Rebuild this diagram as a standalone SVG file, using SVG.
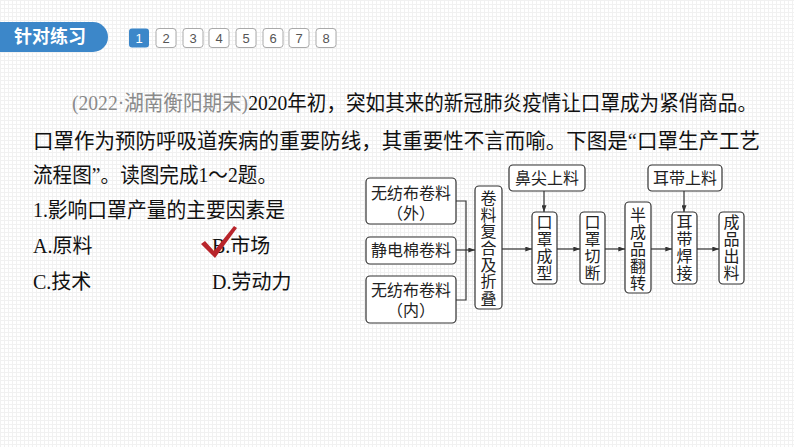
<svg xmlns="http://www.w3.org/2000/svg" width="794" height="447" viewBox="0 0 794 447">
<defs>
<pattern id="grid" width="4" height="4" patternUnits="userSpaceOnUse">
<rect width="4" height="4" fill="#ffffff"/>
<path d="M0 0.5H4M0.5 0V4" stroke="#f1f1f1" stroke-width="1"/>
</pattern>
<marker id="arr" viewBox="0 0 8 6" refX="8" refY="3" markerWidth="7" markerHeight="5" markerUnits="userSpaceOnUse" orient="auto">
<path d="M0,0 L8,3 L0,6 Z" fill="#333"/>
</marker>
<style>
.tx{font-family:"Liberation Serif","Noto Sans CJK SC",serif;font-size:21px;fill:#111}
.sm{font-size:20px}
.gray{fill:#8a8a8a}
.num{font-family:"Liberation Sans",Arial,sans-serif;font-size:13px;fill:#555;text-anchor:middle}
.nb{fill:#fff;stroke:#aaa;stroke-width:1}
.box{fill:#fff;stroke:#333;stroke-width:1.2}
.bt{font-family:"Liberation Serif","Noto Sans CJK SC",serif;font-size:16px;fill:#222;text-anchor:middle;dominant-baseline:central}
.ln{fill:none;stroke:#333;stroke-width:1.2}
</style>
</defs>
<rect width="794" height="447" fill="url(#grid)"/>

<g id="header">
<path d="M0 22 H93 A15 15 0 0 1 93 52 H0 Z" fill="#3c87c9"/>
<text x="50" y="43" font-family="'Noto Sans CJK SC',sans-serif" font-size="18" font-weight="bold" fill="#fff" text-anchor="middle">针对练习</text>
</g>
<g id="pager">
<rect x="129" y="28.5" width="20" height="19" rx="3" fill="#3c87c9"/>
<text x="139" y="43" class="num" style="fill:#fff">1</text>
<rect class="nb" x="156" y="28.5" width="20" height="19" rx="3"/><text class="num" x="166" y="43">2</text>
<rect class="nb" x="183" y="28.5" width="20" height="19" rx="3"/><text class="num" x="193" y="43">3</text>
<rect class="nb" x="209" y="28.5" width="20" height="19" rx="3"/><text class="num" x="219" y="43">4</text>
<rect class="nb" x="236" y="28.5" width="20" height="19" rx="3"/><text class="num" x="246" y="43">5</text>
<rect class="nb" x="263" y="28.5" width="20" height="19" rx="3"/><text class="num" x="273" y="43">6</text>
<rect class="nb" x="289" y="28.5" width="20" height="19" rx="3"/><text class="num" x="299" y="43">7</text>
<rect class="nb" x="316" y="28.5" width="20" height="19" rx="3"/><text class="num" x="326" y="43">8</text>
</g>

<g id="question">
<text class="tx" x="72" y="110" textLength="685" lengthAdjust="spacingAndGlyphs"><tspan class="gray">(2022·湖南衡阳期末)</tspan>2020年初，突如其来的新冠肺炎疫情让口罩成为紧俏商品。</text>
<text class="tx" x="33" y="148" textLength="727" lengthAdjust="spacingAndGlyphs">口罩作为预防呼吸道疾病的重要防线，其重要性不言而喻。下图是“口罩生产工艺</text>
<text class="tx" x="33" y="182" textLength="244" lengthAdjust="spacingAndGlyphs">流程图”。读图完成1～2题。</text>
<text class="tx" x="33" y="217" textLength="252" lengthAdjust="spacingAndGlyphs">1.影响口罩产量的主要因素是</text>
<text class="tx sm" x="33" y="253">A.原料</text>
<text class="tx sm" x="212" y="253">B.市场</text>
<text class="tx sm" x="33" y="289">C.技术</text>
<text class="tx sm" x="212" y="289">D.劳动力</text>
</g>
<g id="check">
<path d="M201 244 L205 241 L214 251 L234 226 L237 228 L215 258 Z" fill="#b8242b"/>
</g>

<g id="connectors">
<path class="ln" d="M456 201 H466 V300 H456"/>
<path class="ln" d="M456 250 H475" marker-end="url(#arr)"/>
<path class="ln" d="M502 249 H532" marker-end="url(#arr)"/>
<path class="ln" d="M557 249 H580" marker-end="url(#arr)"/>
<path class="ln" d="M605 249 H625" marker-end="url(#arr)"/>
<path class="ln" d="M651 249 H672" marker-end="url(#arr)"/>
<path class="ln" d="M697 249 H719" marker-end="url(#arr)"/>
<path class="ln" d="M544 191 V212" marker-end="url(#arr)"/>
<path class="ln" d="M684 191 V212" marker-end="url(#arr)"/>
</g>

<g id="n-wfb-wai">
<rect class="box" x="366" y="178" width="90" height="46" rx="4"/>
<text class="bt" x="411" y="193">无纺布卷料</text>
<text class="bt" x="411" y="213">（外）</text>
</g>
<g id="n-jdm">
<rect class="box" x="366" y="237" width="90" height="27" rx="4"/>
<text class="bt" x="411" y="250">静电棉卷料</text>
</g>
<g id="n-wfb-nei">
<rect class="box" x="366" y="276" width="90" height="47" rx="4"/>
<text class="bt" x="411" y="290">无纺布卷料</text>
<text class="bt" x="411" y="310">（内）</text>
</g>
<g id="n-fuhe">
<rect class="box" x="475" y="186" width="27" height="123" rx="4"/>
<text class="bt" x="488.5"><tspan x="488.5" y="198">卷</tspan><tspan x="488.5" y="214.7">料</tspan><tspan x="488.5" y="231.3">复</tspan><tspan x="488.5" y="248">合</tspan><tspan x="488.5" y="264.7">及</tspan><tspan x="488.5" y="281.3">折</tspan><tspan x="488.5" y="298">叠</tspan></text>
</g>
<g id="n-bijian">
<rect class="box" x="509" y="165" width="76" height="26" rx="4"/>
<text class="bt" x="547" y="178">鼻尖上料</text>
</g>
<g id="n-chengxing">
<rect class="box" x="532" y="212" width="25" height="72" rx="4"/>
<text class="bt"><tspan x="544.5" y="222">口</tspan><tspan x="544.5" y="239">罩</tspan><tspan x="544.5" y="256">成</tspan><tspan x="544.5" y="273">型</tspan></text>
</g>
<g id="n-qieduan">
<rect class="box" x="580" y="212" width="25" height="72" rx="4"/>
<text class="bt"><tspan x="592.5" y="222">口</tspan><tspan x="592.5" y="239">罩</tspan><tspan x="592.5" y="256">切</tspan><tspan x="592.5" y="273">断</tspan></text>
</g>
<g id="n-fanzhuan">
<rect class="box" x="625" y="202" width="26" height="91" rx="4"/>
<text class="bt"><tspan x="638" y="215">半</tspan><tspan x="638" y="232">成</tspan><tspan x="638" y="249">品</tspan><tspan x="638" y="266">翻</tspan><tspan x="638" y="283">转</tspan></text>
</g>
<g id="n-erdai">
<rect class="box" x="648" y="165" width="74" height="26" rx="4"/>
<text class="bt" x="685" y="178">耳带上料</text>
</g>
<g id="n-hanjie">
<rect class="box" x="672" y="212" width="25" height="72" rx="4"/>
<text class="bt"><tspan x="684.5" y="222">耳</tspan><tspan x="684.5" y="239">带</tspan><tspan x="684.5" y="256">焊</tspan><tspan x="684.5" y="273">接</tspan></text>
</g>
<g id="n-chuliao">
<rect class="box" x="719" y="212" width="25" height="72" rx="4"/>
<text class="bt"><tspan x="731.5" y="222">成</tspan><tspan x="731.5" y="239">品</tspan><tspan x="731.5" y="256">出</tspan><tspan x="731.5" y="273">料</tspan></text>
</g>
</svg>
